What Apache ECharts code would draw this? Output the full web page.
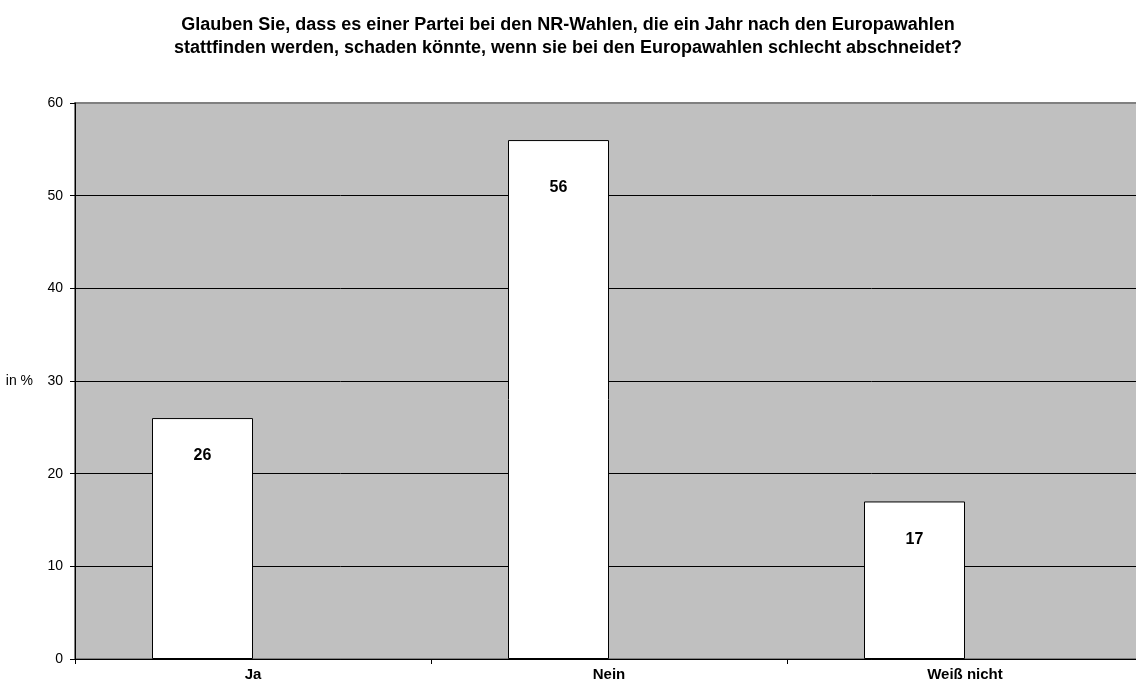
<!DOCTYPE html>
<html>
<head>
<meta charset="utf-8">
<script src="https://cdn.jsdelivr.net/npm/echarts@6/dist/echarts.min.js"></script>
<style>
html, body { margin: 0; padding: 0; background: #fff; }
#main { width: 1136px; height: 686px; }
</style>
</head>
<body>
<div id="main"></div>
<script>
var categories = ['Ja', 'Nein', 'Weiß nicht'];
var values = [26, 56, 17];
var yTicks = [0, 10, 20, 30, 40, 50, 60];

var titleText = 'Glauben Sie, dass es einer Partei bei den NR-Wahlen, die ein Jahr nach den Europawahlen\n' +
	'stattfinden werden, schaden könnte, wenn sie bei den Europawahlen schlecht abschneidet?';

var font = '"Liberation Sans", Arial, sans-serif';

var myChart = echarts.init(document.getElementById('main'));

// value labels sit a bit lower on the tall bar
var barData = values.map(function (v) {
	return { value: v, label: { distance: v > 50 ? 40 : 30 } };
});

var option = {
	animation: false,
	backgroundColor: '#ffffff',
	title: {
		text: titleText,
		left: 'center',
		top: 9,
		textStyle: {
			fontFamily: font,
			fontSize: 18,
			fontWeight: 'bold',
			color: '#000',
			lineHeight: 23
		}
	},
	grid: {
		left: 75,
		width: 1068,
		top: 103,
		bottom: 27,
		outerBoundsMode: 'none',
		show: true,
		backgroundColor: '#C0C0C0',
		borderColor: '#808080',
		borderWidth: 2
	},
	xAxis: {
		type: 'category',
		data: categories,
		axisLine: { lineStyle: { color: '#000', width: 1 } },
		axisTick: { show: true, length: 5, lineStyle: { color: '#000' } },
		axisLabel: {
			margin: 8,
			fontFamily: font,
			fontSize: 15,
			fontWeight: 'bold',
			color: '#000'
		},
		splitLine: { show: false }
	},
	yAxis: {
		type: 'value',
		min: yTicks[0],
		max: yTicks[yTicks.length - 1],
		interval: 10,
		name: 'in %',
		nameLocation: 'middle',
		nameRotate: 0,
		nameGap: 42,
		nameTextStyle: { fontFamily: font, fontSize: 14, color: '#000' },
		axisLine: { show: true, lineStyle: { color: '#000', width: 1 } },
		axisTick: { show: true, length: 5, lineStyle: { color: '#000' } },
		axisLabel: {
			margin: 12,
			fontFamily: font,
			fontSize: 14,
			color: '#000'
		},
		splitLine: {
			show: true,
			lineStyle: { color: ['#000', '#000', '#000', '#000', '#000', '#000', '#808080'], width: 1 }
		}
	},
	series: [{
		type: 'bar',
		data: barData,
		barWidth: 101,
		barGap: '0%',
		itemStyle: { color: '#ffffff', borderColor: '#000', borderWidth: 1 },
		label: {
			show: true,
			position: 'insideTop',
			fontFamily: font,
			fontSize: 16,
			fontWeight: 'bold',
			color: '#000'
		}
	}, {
		type: 'bar',
		data: values.map(function () { return '-'; }),
		barWidth: 101,
		barGap: '0%'
	}]
};

myChart.setOption(option);
</script>
</body>
</html>
